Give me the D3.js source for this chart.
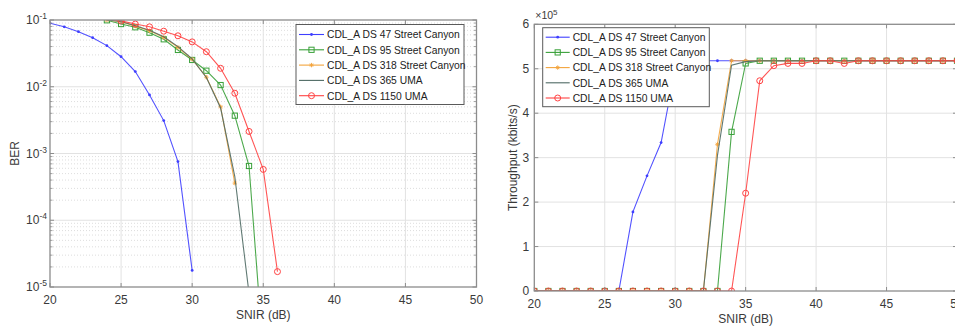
<!DOCTYPE html>
<html>
<head>
<meta charset="utf-8">
<script src="https://cdn.jsdelivr.net/npm/d3@7"></script>
<style>
  html, body { margin: 0; padding: 0; background: #fff; }
  svg { display: block; font-family: "Liberation Sans", Arial, Helvetica, sans-serif; }
</style>
</head>
<body>
<svg id="chart" width="955" height="329"></svg>
<script>
// ---- data ----------------------------------------------------------------
const seriesNames = [
  "CDL_A DS 47 Street Canyon",
  "CDL_A DS 95 Street Canyon",
  "CDL_A DS 318 Street Canyon",
  "CDL_A DS 365 UMA",
  "CDL_A DS 1150 UMA"
];
const seriesColors = ["#3f3fff", "#38a038", "#f3a43c", "#4f6a64", "#ff4343"];
const seriesMarkers = ["dot", "square", "star", "none", "circle"];

// BER curves (SNIR in dB)
const berSnir47   = [20, 21, 22, 23, 24, 25, 26, 27, 28, 29, 30];
const ber47       = [0.0893, 0.079, 0.0668, 0.0543, 0.0413, 0.0282, 0.0169, 0.00753, 0.00311, 0.000757, 1.77e-5];
const berSnir95   = [24, 25, 26, 27, 28, 29, 30, 31, 32, 33, 34, 35];
const ber95       = [0.099, 0.087, 0.0778, 0.0646, 0.0514, 0.0356, 0.0252, 0.0174, 0.0106, 0.00369, 0.00065, 1e-6];
const berSnir318  = [24, 25, 26, 27, 28, 29, 30, 31, 32, 33];
const ber318      = [0.1, 0.094, 0.081, 0.069, 0.055, 0.039, 0.0258, 0.0139, 0.005, 0.00036];
const berSnir365  = [24, 25, 26, 27, 28, 29, 30, 31, 32, 33, 34];
const ber365      = [0.1, 0.095, 0.082, 0.07, 0.056, 0.04, 0.0262, 0.0138, 0.0048, 0.00045, 8e-6];
const berSnir1150 = [24, 25, 26, 27, 28, 29, 30, 31, 32, 33, 34, 35, 36];
const ber1150     = [0.105, 0.097, 0.087, 0.079, 0.068, 0.058, 0.047, 0.0335, 0.0189, 0.008, 0.00214, 0.000578, 1.7e-5];

// Throughput curves (kbits/s), SNIR 20..50 dB
const tputSnir = d3.range(20, 51);
const tput47   = [0, 0, 0, 0, 0, 0, 0, 178000, 259000, 334000, 500000,
                  518000, 518000, 518000, 518000, 518000, 518000, 518000, 518000, 518000, 518000,
                  518000, 518000, 518000, 518000, 518000, 518000, 518000, 518000, 518000, 518000];
const tput95   = [0, 0, 0, 0, 0, 0, 0, 0, 0, 0, 0, 0, 0, 0, 358000, 512000,
                  518000, 518000, 518000, 518000, 518000, 518000, 518000, 518000, 518000, 518000,
                  518000, 518000, 518000, 518000, 518000];
const tput318  = [0, 0, 0, 0, 0, 0, 0, 0, 0, 0, 0, 0, 0, 330000, 518000, 518000,
                  518000, 518000, 518000, 518000, 518000, 518000, 518000, 518000, 518000, 518000,
                  518000, 518000, 518000, 518000, 518000];
const tput365  = [0, 0, 0, 0, 0, 0, 0, 0, 0, 0, 0, 0, 0, 305000, 508000, 516000,
                  518000, 518000, 518000, 518000, 518000, 518000, 518000, 518000, 518000, 518000,
                  518000, 518000, 518000, 518000, 518000];
const tput1150 = [0, 0, 0, 0, 0, 0, 0, 0, 0, 0, 0, 0, 0, 0, 0, 220000,
                  473000, 507000, 512000, 512000, 518000, 518000, 512000, 518000, 518000, 518000,
                  518000, 518000, 518000, 518000, 518000];

const xTicks = [20, 25, 30, 35, 40, 45, 50];
const berTicks = [1e-5, 1e-4, 1e-3, 1e-2, 1e-1];
const tputTicks = [0, 1e5, 2e5, 3e5, 4e5, 5e5, 6e5];

const berSeries = [
  { x: berSnir47, y: ber47 },
  { x: berSnir95, y: ber95 },
  { x: berSnir318, y: ber318 },
  { x: berSnir365, y: ber365 },
  { x: berSnir1150, y: ber1150 }
];
const tputSeries = [tput47, tput95, tput318, tput365, tput1150].map(v => ({ x: tputSnir, y: v }));

// ---- drawing helpers -----------------------------------------------------
const svg = d3.select("#chart");
const axisColor = "#8c8c8c";
const textColor = "#3a3a3a";

function drawMarker(g, type, cx, cy, color) {
  if (type === "dot") {
    g.append("circle").attr("cx", cx).attr("cy", cy).attr("r", 1.4).attr("fill", color);
  } else if (type === "square") {
    g.append("rect").attr("x", cx - 2.6).attr("y", cy - 2.6).attr("width", 5.2).attr("height", 5.2)
      .attr("fill", "none").attr("stroke", color).attr("stroke-width", 1);
  } else if (type === "circle") {
    g.append("circle").attr("cx", cx).attr("cy", cy).attr("r", 3)
      .attr("fill", "none").attr("stroke", color).attr("stroke-width", 1);
  } else if (type === "star") {
    const s = 2.2;
    g.append("path")
      .attr("d", `M${cx - s},${cy}L${cx + s},${cy}M${cx},${cy - s}L${cx},${cy + s}` +
                 `M${cx - s * 0.7},${cy - s * 0.7}L${cx + s * 0.7},${cy + s * 0.7}` +
                 `M${cx - s * 0.7},${cy + s * 0.7}L${cx + s * 0.7},${cy - s * 0.7}`)
      .attr("stroke", color).attr("stroke-width", 0.9).attr("fill", "none");
  }
}

function drawPanel(cfg) {
  const { id, x, y, yTicks, series, isLog, xLabel, yLabel, yLabelX, legend } = cfg;
  const [x0, x1] = x.range();
  const [y0, y1] = y.range(); // y0 bottom, y1 top
  const g = svg.append("g");

  g.append("clipPath").attr("id", id).append("rect")
    .attr("x", x0).attr("y", y1).attr("width", x1 - x0).attr("height", y0 - y1);

  // grid
  const grid = g.append("g");
  if (isLog) {
    const minor = [];
    for (let e = -5; e < -1; e++) for (let m = 2; m <= 9; m++) minor.push(m * Math.pow(10, e));
    grid.selectAll(".ymin").data(minor).join("line")
      .attr("x1", x0).attr("x2", x1).attr("y1", d => y(d)).attr("y2", d => y(d))
      .attr("stroke", "#d4d4d4").attr("stroke-width", 0.8).attr("stroke-dasharray", "1,2");
  }
  grid.selectAll(".xg").data(xTicks.slice(1, -1)).join("line")
    .attr("x1", d => x(d)).attr("x2", d => x(d)).attr("y1", y1).attr("y2", y0)
    .attr("stroke", "#e2e2e2").attr("stroke-width", 1);
  grid.selectAll(".yg").data(yTicks.slice(1, -1)).join("line")
    .attr("x1", x0).attr("x2", x1).attr("y1", d => y(d)).attr("y2", d => y(d))
    .attr("stroke", "#e2e2e2").attr("stroke-width", 1);

  // series
  const plot = g.append("g").attr("clip-path", `url(#${id})`);
  series.forEach((s, i) => {
    const pts = s.x.map((v, k) => [v, s.y[k]]).filter(p => !isLog || p[1] > 0);
    const line = d3.line().x(p => x(p[0])).y(p => y(p[1]));
    plot.append("path").attr("d", line(pts))
      .attr("fill", "none").attr("stroke", seriesColors[i]).attr("stroke-width", 1.1)
      .attr("stroke-opacity", 0.9);
    const [dLo, dHi] = y.domain();
    pts.filter(p => p[1] >= dLo * 0.999 && p[1] <= dHi * 1.001).forEach(p => {
      drawMarker(plot, seriesMarkers[i], x(p[0]), y(p[1]), seriesColors[i]);
    });
  });

  // axes frame
  const frame = g.append("g");
  frame.append("rect").attr("x", x0).attr("y", y1).attr("width", x1 - x0).attr("height", y0 - y1)
    .attr("fill", "none").attr("stroke", axisColor).attr("stroke-width", 1.3);

  // tick marks (inward) on all four sides
  const tl = 4;
  frame.selectAll(".xt").data(xTicks).join("path")
    .attr("d", d => `M${x(d)},${y0}v${-tl}M${x(d)},${y1}v${tl}`)
    .attr("stroke", axisColor).attr("stroke-width", 1);
  frame.selectAll(".yt").data(yTicks).join("path")
    .attr("d", d => `M${x0},${y(d)}h${tl}M${x1},${y(d)}h${-tl}`)
    .attr("stroke", axisColor).attr("stroke-width", 1);
  if (isLog) {
    const minor = [];
    for (let e = -5; e < -1; e++) for (let m = 2; m <= 9; m++) minor.push(m * Math.pow(10, e));
    frame.selectAll(".ymt").data(minor).join("path")
      .attr("d", d => `M${x0},${y(d)}h2.5M${x1},${y(d)}h-2.5`)
      .attr("stroke", axisColor).attr("stroke-width", 0.8);
  }

  // tick labels
  frame.selectAll(".xl").data(xTicks).join("text")
    .attr("x", d => x(d)).attr("y", y0 + 17).attr("text-anchor", "middle")
    .attr("font-size", 12).attr("fill", textColor).text(d => d);

  if (isLog) {
    frame.selectAll(".yl").data(yTicks).join("text")
      .attr("x", x0 - 3).attr("y", d => y(d) + 4).attr("text-anchor", "end")
      .attr("font-size", 12).attr("fill", textColor)
      .each(function (d) {
        const t = d3.select(this);
        t.append("tspan").text("10");
        t.append("tspan").attr("dy", -5).attr("font-size", 8.5).text(String(Math.round(Math.log10(d))));
      });
  } else {
    frame.selectAll(".yl").data(yTicks).join("text")
      .attr("x", x0 - 5).attr("y", d => y(d) + 4).attr("text-anchor", "end")
      .attr("font-size", 12).attr("fill", textColor).text(d => d / 1e5);
    const ex = frame.append("text").attr("x", x0 + 1).attr("y", y1 - 5)
      .attr("font-size", 10.5).attr("fill", textColor);
    ex.append("tspan").text("\u00d710");
    ex.append("tspan").attr("dy", -4).attr("font-size", 8).text("5");
  }

  // axis titles
  frame.append("text").attr("x", (x0 + Math.min(x1, 955 + 2)) / 2).attr("y", y0 + 32)
    .attr("text-anchor", "middle").attr("font-size", 12).attr("fill", textColor).text(xLabel);
  frame.append("text")
    .attr("transform", `translate(${yLabelX},${(y0 + y1) / 2}) rotate(-90)`)
    .attr("text-anchor", "middle").attr("font-size", 12).attr("fill", textColor).text(yLabel);

  // legend
  const lg = g.append("g");
  lg.append("rect").attr("x", legend.x).attr("y", legend.y).attr("width", legend.w).attr("height", legend.h)
    .attr("fill", "#fff").attr("stroke", "#5a5a5a").attr("stroke-width", 1);
  seriesNames.forEach((name, i) => {
    const ly = legend.y + legend.top + i * legend.step;
    const lx0 = legend.x + 3, lx1 = legend.x + 3 + legend.lineLen;
    lg.append("line").attr("x1", lx0).attr("x2", lx1).attr("y1", ly).attr("y2", ly)
      .attr("stroke", seriesColors[i]).attr("stroke-width", 1.1);
    drawMarker(lg, seriesMarkers[i], (lx0 + lx1) / 2, ly, seriesColors[i]);
    lg.append("text").attr("x", lx1 + 3).attr("y", ly + 3.8)
      .attr("font-size", 10.3).attr("fill", "#222").text(name);
  });
}

// ---- left panel: BER --------------------------------------------------------
drawPanel({
  id: "clipBer",
  x: d3.scaleLinear().domain([20, 50]).range([50, 476.5]),
  y: d3.scaleLog().domain([1e-5, 1e-1]).range([287, 20]),
  yTicks: berTicks,
  series: berSeries,
  isLog: true,
  xLabel: "SNIR (dB)",
  yLabel: "BER",
  yLabelX: 19,
  legend: { x: 296, y: 24.5, w: 168, h: 80, top: 10, step: 15.3, lineLen: 25 }
});

// ---- right panel: throughput -----------------------------------------------
drawPanel({
  id: "clipTput",
  x: d3.scaleLinear().domain([20, 50]).range([534.3, 957]),
  y: d3.scaleLinear().domain([0, 6e5]).range([291, 24.3]),
  yTicks: tputTicks,
  series: tputSeries,
  isLog: false,
  xLabel: "SNIR (dB)",
  yLabel: "Throughput (kbits/s)",
  yLabelX: 517,
  legend: { x: 542.7, y: 27.7, w: 166.6, h: 79, top: 9.5, step: 15.2, lineLen: 24 }
});
</script>
</body>
</html>
